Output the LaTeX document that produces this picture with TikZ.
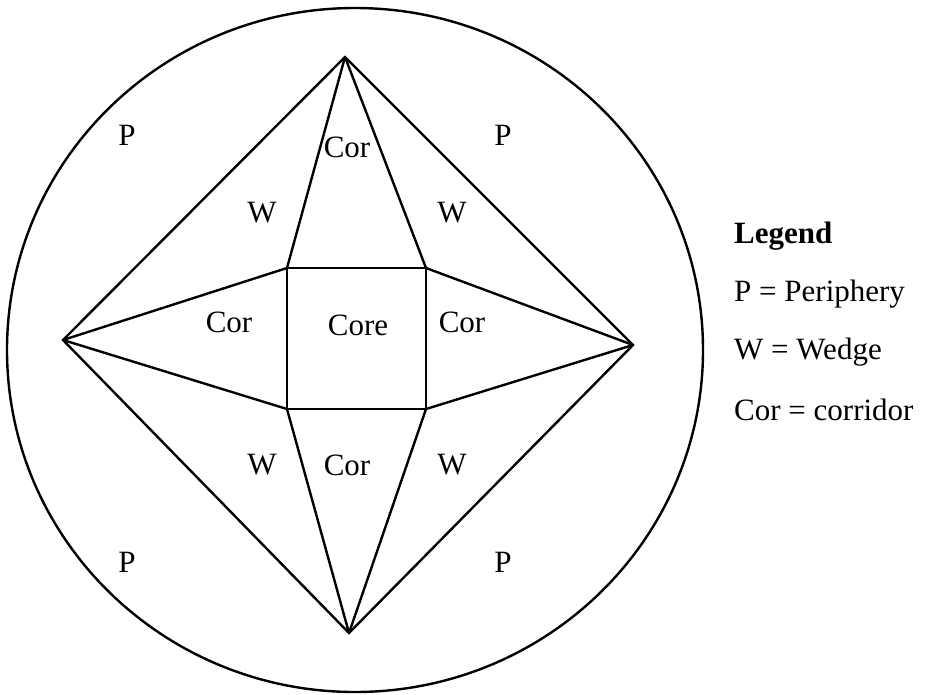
\documentclass[tikz,border=0pt]{standalone}
\usepackage{fontspec}
\setmainfont{Liberation Serif}
\usepackage{tikz}
\usetikzlibrary{positioning}

\begin{document}
\begin{tikzpicture}[
    x=1pt, y=-1pt,
    line width=2.4pt,
    node distance=58pt,
    zone/.style={
        inner sep=0pt, font=\fontsize{31}{36}\selectfont
    },
    legendtxt/.style={
        inner sep=0pt, anchor=west, font=\fontsize{31}{36}\selectfont
    }
]
\useasboundingbox (0,0) rectangle (936,694);

\draw (355,350) ellipse [x radius=348, y radius=342];

\coordinate (top) at (345,57);
\coordinate (bot) at (349,633);
\coordinate (lft) at (63,340);
\coordinate (rgt) at (633,345);

\coordinate (tl) at (287,268);
\coordinate (tr) at (426,268);
\coordinate (br) at (426,409);
\coordinate (bl) at (287,409);

\draw (top) -- (rgt) -- (bot) -- (lft) -- cycle;
\draw (tl) -- (tr) -- (br) -- (bl) -- cycle;

\draw (top) -- (tl);
\draw (top) -- (tr);
\draw (lft) -- (tl);
\draw (lft) -- (bl);
\draw (rgt) -- (tr);
\draw (rgt) -- (br);
\draw (bot) -- (bl);
\draw (bot) -- (br);

\node [zone] (p1) at (127,135) {P};
\node [zone] (p2) at (503,135) {P};
\node [zone] (p3) at (127,562) {P};
\node [zone] (p4) at (503,562) {P};

\node [zone] (w1) at (262,213) {W};
\node [zone] (w2) at (452,213) {W};
\node [zone] (w3) at (262,465) {W};
\node [zone] (w4) at (452,465) {W};

\node [zone] (cortop) at (347,147) {Cor};
\node [zone] (corlft) at (229,322) {Cor};
\node [zone] (corrgt) at (462,322) {Cor};
\node [zone] (corbot) at (347,465) {Cor};

\node [zone] (core) at (358,325) {Core};

\node [legendtxt, font=\fontsize{31}{36}\selectfont\bfseries] (legend) at (733,236) {Legend};
\node [legendtxt, below=of legend.west, anchor=west] (legp) {P = Periphery};
\node [legendtxt, below=of legp.west, anchor=west] (legw) {W = Wedge};
\node [legendtxt, below=of legw.west, anchor=west] (legc) {Cor = corridor};

\end{tikzpicture}
\end{document}
